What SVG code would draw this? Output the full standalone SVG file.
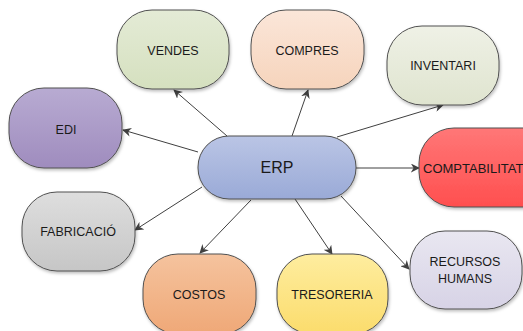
<svg xmlns="http://www.w3.org/2000/svg" width="523" height="331" viewBox="0 0 523 331">
<defs>
<linearGradient id="gV" x1="0" y1="0" x2="0" y2="1"><stop offset="0" stop-color="#e4ebd6"/><stop offset="1" stop-color="#d5e0bf"/></linearGradient>
<linearGradient id="gC" x1="0" y1="0" x2="0" y2="1"><stop offset="0" stop-color="#fbe6d9"/><stop offset="1" stop-color="#f6d4bc"/></linearGradient>
<linearGradient id="gI" x1="0" y1="0" x2="0" y2="1"><stop offset="0" stop-color="#eff1e6"/><stop offset="1" stop-color="#dfe4cf"/></linearGradient>
<linearGradient id="gE" x1="0" y1="0" x2="0" y2="1"><stop offset="0" stop-color="#b8abd2"/><stop offset="1" stop-color="#9f8cbe"/></linearGradient>
<linearGradient id="gR" x1="0" y1="0" x2="0" y2="1"><stop offset="0" stop-color="#bac5e5"/><stop offset="1" stop-color="#9aaad7"/></linearGradient>
<linearGradient id="gT" x1="0" y1="0" x2="0" y2="1"><stop offset="0" stop-color="#ff7777"/><stop offset="1" stop-color="#ff4f4f"/></linearGradient>
<linearGradient id="gF" x1="0" y1="0" x2="0" y2="1"><stop offset="0" stop-color="#dedede"/><stop offset="1" stop-color="#c6c6c6"/></linearGradient>
<linearGradient id="gS" x1="0" y1="0" x2="0" y2="1"><stop offset="0" stop-color="#f5c39e"/><stop offset="1" stop-color="#efa877"/></linearGradient>
<linearGradient id="gY" x1="0" y1="0" x2="0" y2="1"><stop offset="0" stop-color="#feed9f"/><stop offset="1" stop-color="#fbdc6c"/></linearGradient>
<linearGradient id="gH" x1="0" y1="0" x2="0" y2="1"><stop offset="0" stop-color="#e9e7f1"/><stop offset="1" stop-color="#d7d3e6"/></linearGradient>
<filter id="sh" x="-10%" y="-10%" width="130%" height="130%"><feDropShadow dx="1" dy="2" stdDeviation="1.5" flood-color="#000" flood-opacity="0.25"/></filter>
<marker id="ar" viewBox="0 0 10 10" refX="9" refY="5" markerWidth="9" markerHeight="9" markerUnits="userSpaceOnUse" orient="auto"><path d="M0,0 L10,5 L0,10 L3,5 z" fill="#404040"/></marker>
</defs>
<style>
.n{stroke:#505050;stroke-width:1;filter:url(#sh)}
.t{font-family:"Liberation Sans",Arial,sans-serif;font-size:12.5px;fill:#1a1a1a;text-anchor:middle}
.c{stroke:#404040;stroke-width:1;fill:none;marker-end:url(#ar)}
</style>
<rect width="523" height="331" fill="#ffffff"/>
<g id="connectors">
<line class="c" x1="227" y1="136" x2="174" y2="90"/>
<line class="c" x1="198" y1="152" x2="123" y2="130"/>
<line class="c" x1="292" y1="136" x2="308" y2="90"/>
<line class="c" x1="337" y1="137" x2="443" y2="105"/>
<line class="c" x1="356" y1="168" x2="419" y2="168"/>
<line class="c" x1="202" y1="187" x2="135" y2="230"/>
<line class="c" x1="251" y1="200" x2="200" y2="253"/>
<line class="c" x1="295" y1="199" x2="332" y2="254"/>
<line class="c" x1="341" y1="196" x2="409" y2="269"/>
</g>
<g id="vendes"><rect class="n" x="117" y="10" width="112" height="79" rx="35" fill="url(#gV)"/><text class="t" x="173" y="55">VENDES</text></g>
<g id="compres"><rect class="n" x="251" y="10" width="113" height="79" rx="35" fill="url(#gC)"/><text class="t" x="307" y="55">COMPRES</text></g>
<g id="inventari"><rect class="n" x="387" y="26" width="112" height="79" rx="35" fill="url(#gI)"/><text class="t" x="443" y="70">INVENTARI</text></g>
<g id="edi"><rect class="n" x="9" y="88" width="113" height="80" rx="35" fill="url(#gE)"/><text class="t" x="66" y="134">EDI</text></g>
<g id="erp"><rect class="n" x="198" y="136" width="158" height="63" rx="31" fill="url(#gR)"/><text class="t" x="277" y="173" style="font-size:16px">ERP</text></g>
<g id="comptabilitat"><rect class="n" x="419" y="128" width="140" height="79" rx="35" fill="url(#gT)"/><text class="t" x="423" y="173" style="text-anchor:start;font-size:13px">COMPTABILITAT</text></g>
<g id="fabricacio"><rect class="n" x="22" y="192" width="113" height="79" rx="35" fill="url(#gF)"/><text class="t" x="78" y="236">FABRICACIÓ</text></g>
<g id="costos"><rect class="n" x="143" y="254" width="113" height="80" rx="35" fill="url(#gS)"/><text class="t" x="199" y="299">COSTOS</text></g>
<g id="tresoreria"><rect class="n" x="277" y="254" width="111" height="80" rx="35" fill="url(#gY)"/><text class="t" x="332" y="299">TRESORERIA</text></g>
<g id="recursos"><rect class="n" x="410" y="231" width="112" height="78" rx="35" fill="url(#gH)"/><text class="t" x="465" y="266">RECURSOS</text><text class="t" x="465" y="283">HUMANS</text></g>
</svg>
